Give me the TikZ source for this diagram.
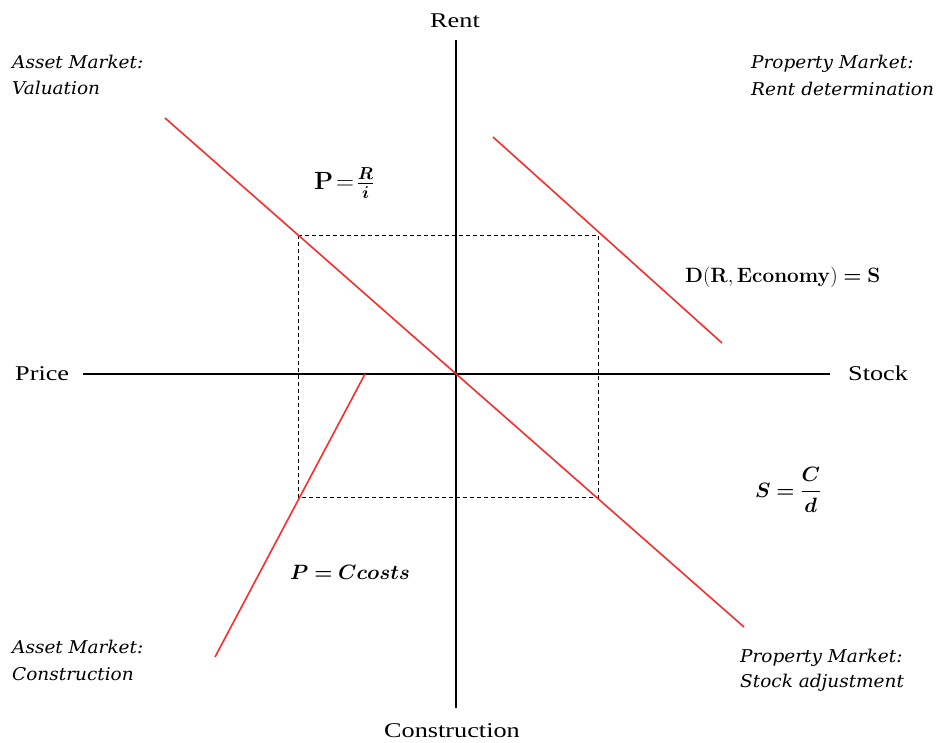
\documentclass[tikz,border=0pt]{standalone}
\usepackage{amsmath}
\usepackage{bm}
\usepackage[no-math]{fontspec}
\setmainfont{Liberation Serif}
\newfontfamily\axfont{Liberation Serif}[FakeStretch=1.25]
\newfontfamily\quadfont{DejaVu Serif}[FakeStretch=1.05]
\definecolor{curvered}{RGB}{250,45,45}
\begin{document}
\begin{tikzpicture}[x=1pt,y=-1pt,
  axis/.style={line width=1.4pt,black},
  curve/.style={line width=1.6pt,curvered},
  guide/.style={line width=0.9pt,dashed,dash pattern=on 4pt off 3pt},
  axlabel/.style={font=\axfont\fontsize{21}{24}\selectfont,inner sep=0pt},
  quad/.style={font=\quadfont\itshape\fontsize{17.6}{26}\selectfont,inner sep=0pt,anchor=base west},
  formula/.style={font=\fontsize{22}{26}\selectfont,inner sep=0pt}]
\useasboundingbox (0,0) rectangle (939,742);
% axes
\coordinate (top) at (456,40);
\coordinate (bot) at (456,708);
\coordinate (left) at (83,374);
\coordinate (right) at (830,374);
\draw[axis] (top) -- (bot);
\draw[axis] (left) -- (right);
\node[axlabel,anchor=base] (rent) at (455,27) {Rent};
\node[axlabel,anchor=base west] (price) at (15,380) {Price};
\node[axlabel,anchor=base west] (stock) at (848,380) {Stock};
\node[axlabel,anchor=base] (constr) at (452,737) {Construction};
% dashed rectangle
\coordinate (r1) at (298,235);
\coordinate (r2) at (598,497);
\draw[guide] (r1) rectangle (r2);
% red lines
\coordinate (a1) at (165,118);
\coordinate (a2) at (744,627);
\draw[curve] (a1) -- (a2);
\coordinate (b1) at (493,137);
\coordinate (b2) at (722,343);
\draw[curve] (b1) -- (b2);
\coordinate (c1) at (365,374);
\coordinate (c2) at (215,657);
\draw[curve] (c1) -- (c2);
% quadrant labels
\node[quad] (q1a) at (12,68) {Asset Market:};
\node[quad] (q1b) at (12,94) {Valuation};
\node[quad] (q2a) at (751,68) {Property Market:};
\node[quad] (q2b) at (751,95) {Rent determination};
\node[quad] (q3a) at (12,653) {Asset Market:};
\node[quad] (q3b) at (12,680) {Construction};
\node[quad] (q4a) at (740,662) {Property Market:};
\node[quad] (q4b) at (740,687) {Stock adjustment};
% formulas
\node[formula,anchor=west,font=\fontsize{26}{30}\selectfont] (f1) at (314,183) {$\mathbf{P}\!=\!\frac{\bm{R}}{\bm{i}}$};
\node[formula,anchor=west] (f2) at (685,277) {$\mathbf{D(R,Economy)}\bm{=}\mathbf{S}$};
\node[formula,anchor=west] (f3) at (755,490) {$\bm{S=\dfrac{C}{d}}$};
\node[formula,anchor=west] (f4) at (290,572) {$\bm{P=Ccosts}$};
\end{tikzpicture}
\end{document}
